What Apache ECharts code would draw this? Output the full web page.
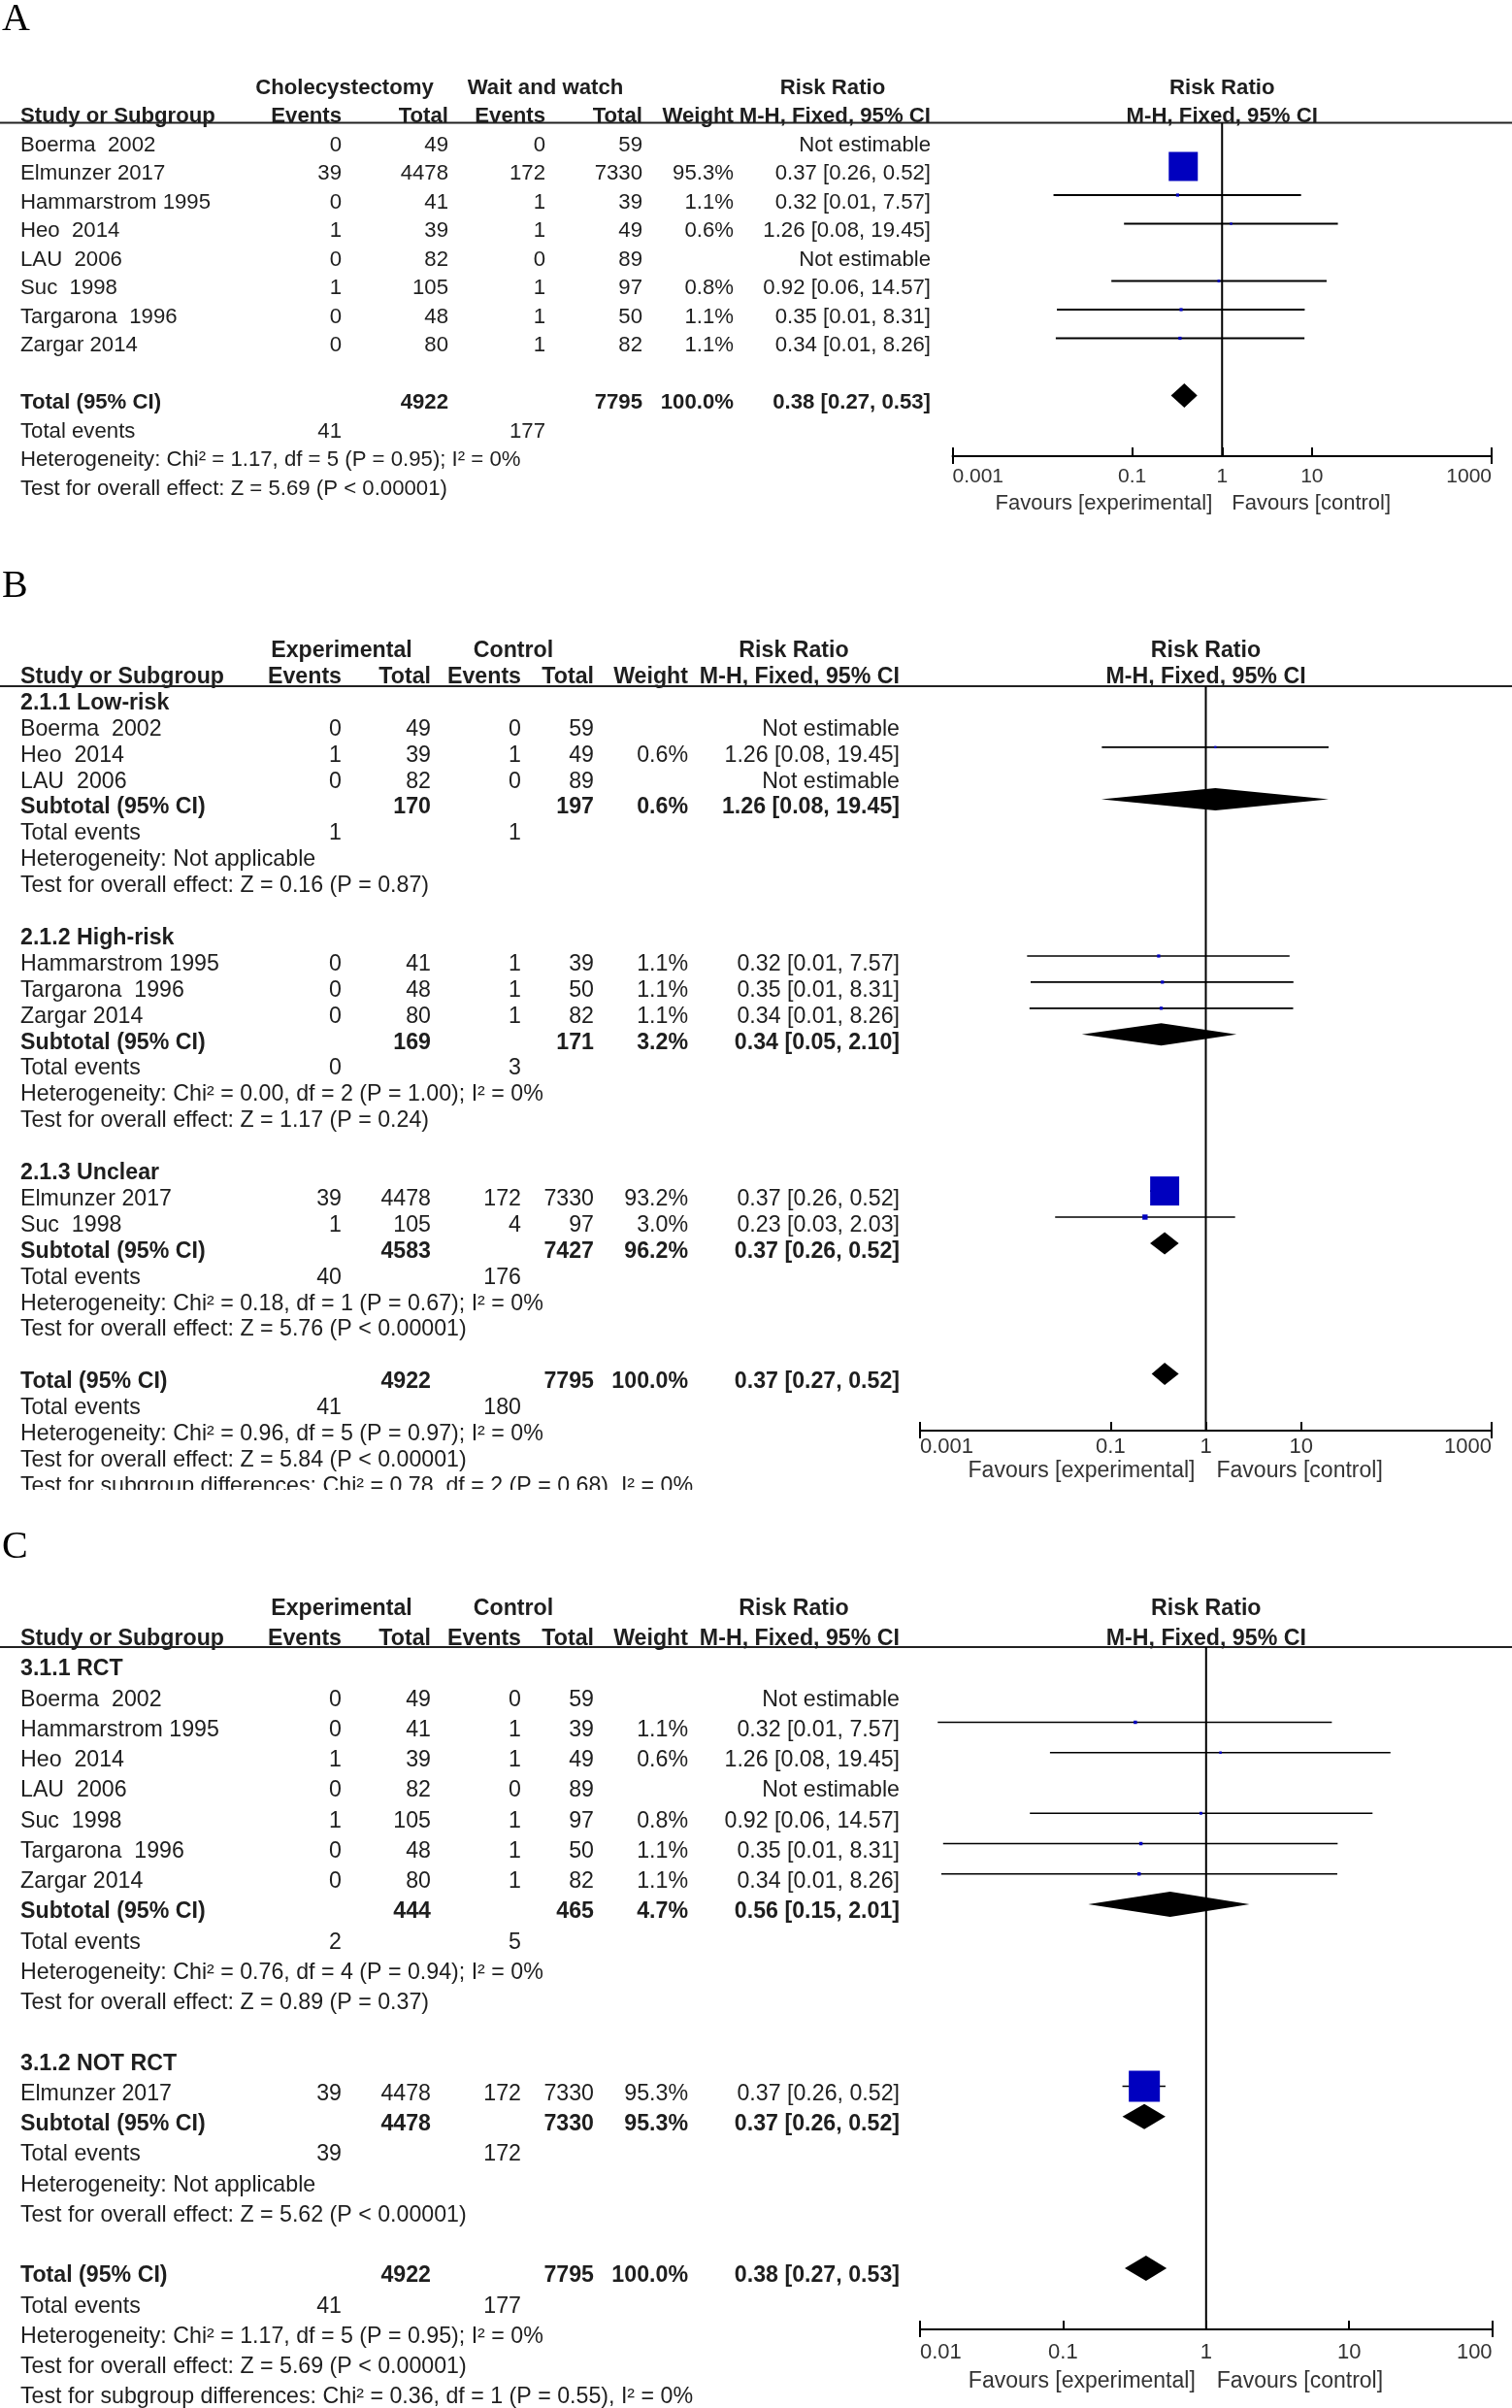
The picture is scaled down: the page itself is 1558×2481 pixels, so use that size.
<!DOCTYPE html>
<html>
<head>
<meta charset="utf-8">
<script src="https://cdn.jsdelivr.net/npm/echarts@6/dist/echarts.min.js"></script>
<style>
  html, body { margin: 0; padding: 0; background: #fff; }
  #chart { width: 1558px; height: 2481px; }
</style>
</head>
<body>
<div id="chart"></div>
<script>
const W = 1558;
const FONT = "'Liberation Sans', Arial, Helvetica, sans-serif";
const SERIF = "'Liberation Serif', 'Times New Roman', serif";
const INK = '#1e1e1e';

// shared labels
const colHeaders = ['Study or Subgroup', 'Events', 'Total', 'Events', 'Total', 'Weight', 'M-H, Fixed, 95% CI'];
const rrHeader = ['Risk Ratio', 'M-H, Fixed, 95% CI'];
const favourLabels = ['Favours [experimental]', 'Favours [control]'];

// ---- Panel A ----
const aArmLabels = ['Cholecystectomy', 'Wait and watch'];
const aStudy = ['Boerma  2002', 'Elmunzer 2017', 'Hammarstrom 1995', 'Heo  2014', 'LAU  2006', 'Suc  1998', 'Targarona  1996', 'Zargar 2014'];
const aExpEvents = [0, 39, 0, 1, 0, 1, 0, 0];
const aExpTotal = [49, 4478, 41, 39, 82, 105, 48, 80];
const aCtlEvents = [0, 172, 1, 1, 0, 1, 1, 1];
const aCtlTotal = [59, 7330, 39, 49, 89, 97, 50, 82];
const aWeight = [null, 95.3, 1.1, 0.6, null, 0.8, 1.1, 1.1];
const aRR = [null, 0.37, 0.32, 1.26, null, 0.92, 0.35, 0.34];
const aLow = [null, 0.26, 0.0133, 0.081, null, 0.0586, 0.0145, 0.0141];
const aHigh = [null, 0.52, 7.57, 19.45, null, 14.57, 8.31, 8.26];
const aTotalN = [4922, 7795];
const aTotalWeight = 100.0;
const aTotalRR = [0.38, 0.27, 0.53];
const aTotalEvents = [41, 177];
const aTotalNotes = [
  'Heterogeneity: Chi² = 1.17, df = 5 (P = 0.95); I² = 0%',
  'Test for overall effect: Z = 5.69 (P < 0.00001)'
];
const aTicks = [0.001, 0.1, 1, 10, 1000];
const aTickLabels = ['0.001', '0.1', '1', '10', '1000'];

// ---- Panel B ----
const bArmLabels = ['Experimental', 'Control'];
const bGroupNames = ['2.1.1 Low-risk', '2.1.2 High-risk', '2.1.3 Unclear'];
const bStudy = ['Boerma  2002', 'Heo  2014', 'LAU  2006', 'Hammarstrom 1995', 'Targarona  1996', 'Zargar 2014', 'Elmunzer 2017', 'Suc  1998'];
const bGroup = [0, 0, 0, 1, 1, 1, 2, 2];
const bExpEvents = [0, 1, 0, 0, 0, 0, 39, 1];
const bExpTotal = [49, 39, 82, 41, 48, 80, 4478, 105];
const bCtlEvents = [0, 1, 0, 1, 1, 1, 172, 4];
const bCtlTotal = [59, 49, 89, 39, 50, 82, 7330, 97];
const bWeight = [null, 0.6, null, 1.1, 1.1, 1.1, 93.2, 3.0];
const bRR = [null, 1.26, null, 0.32, 0.35, 0.34, 0.37, 0.23];
const bLow = [null, 0.081, null, 0.0133, 0.0145, 0.0141, 0.26, 0.0262];
const bHigh = [null, 19.45, null, 7.57, 8.31, 8.26, 0.52, 2.03];
const bSubExpTotal = [170, 169, 4583];
const bSubCtlTotal = [197, 171, 7427];
const bSubWeight = [0.6, 3.2, 96.2];
const bSubRR = [1.26, 0.34, 0.37];
const bSubLow = [0.08, 0.05, 0.26];
const bSubHigh = [19.45, 2.10, 0.52];
const bSubExpEvents = [1, 0, 40];
const bSubCtlEvents = [1, 3, 176];
const bSubHet = [
  'Heterogeneity: Not applicable',
  'Heterogeneity: Chi² = 0.00, df = 2 (P = 1.00); I² = 0%',
  'Heterogeneity: Chi² = 0.18, df = 1 (P = 0.67); I² = 0%'
];
const bSubTest = [
  'Test for overall effect: Z = 0.16 (P = 0.87)',
  'Test for overall effect: Z = 1.17 (P = 0.24)',
  'Test for overall effect: Z = 5.76 (P < 0.00001)'
];
const bTotalN = [4922, 7795];
const bTotalWeight = 100.0;
const bTotalRR = [0.37, 0.27, 0.52];
const bTotalEvents = [41, 180];
const bTotalNotes = [
  'Heterogeneity: Chi² = 0.96, df = 5 (P = 0.97); I² = 0%',
  'Test for overall effect: Z = 5.84 (P < 0.00001)',
  'Test for subgroup differences: Chi² = 0.78, df = 2 (P = 0.68), I² = 0%'
];
const bTicks = [0.001, 0.1, 1, 10, 1000];
const bTickLabels = ['0.001', '0.1', '1', '10', '1000'];

// ---- Panel C ----
const cGroupNames = ['3.1.1 RCT', '3.1.2 NOT RCT'];
const cStudy = ['Boerma  2002', 'Hammarstrom 1995', 'Heo  2014', 'LAU  2006', 'Suc  1998', 'Targarona  1996', 'Zargar 2014', 'Elmunzer 2017'];
const cGroup = [0, 0, 0, 0, 0, 0, 0, 1];
const cExpEvents = [0, 0, 1, 0, 1, 0, 0, 39];
const cExpTotal = [49, 41, 39, 82, 105, 48, 80, 4478];
const cCtlEvents = [0, 1, 1, 0, 1, 1, 1, 172];
const cCtlTotal = [59, 39, 49, 89, 97, 50, 82, 7330];
const cWeight = [null, 1.1, 0.6, null, 0.8, 1.1, 1.1, 95.3];
const cRR = [null, 0.32, 1.26, null, 0.92, 0.35, 0.34, 0.37];
const cLow = [null, 0.0133, 0.081, null, 0.0586, 0.0145, 0.0141, 0.26];
const cHigh = [null, 7.57, 19.45, null, 14.57, 8.31, 8.26, 0.52];
const cSubExpTotal = [444, 4478];
const cSubCtlTotal = [465, 7330];
const cSubWeight = [4.7, 95.3];
const cSubRR = [0.56, 0.37];
const cSubLow = [0.15, 0.26];
const cSubHigh = [2.01, 0.52];
const cSubExpEvents = [2, 39];
const cSubCtlEvents = [5, 172];
const cSubHet = [
  'Heterogeneity: Chi² = 0.76, df = 4 (P = 0.94); I² = 0%',
  'Heterogeneity: Not applicable'
];
const cSubTest = [
  'Test for overall effect: Z = 0.89 (P = 0.37)',
  'Test for overall effect: Z = 5.62 (P < 0.00001)'
];
const cTotalN = [4922, 7795];
const cTotalWeight = 100.0;
const cTotalRR = [0.38, 0.27, 0.53];
const cTotalEvents = [41, 177];
const cTotalNotes = [
  'Heterogeneity: Chi² = 1.17, df = 5 (P = 0.95); I² = 0%',
  'Test for overall effect: Z = 5.69 (P < 0.00001)',
  'Test for subgroup differences: Chi² = 0.36, df = 1 (P = 0.55), I² = 0%'
];
const cTicks = [0.01, 0.1, 1, 10, 100];
const cTickLabels = ['0.01', '0.1', '1', '10', '100'];

// layout (pixels)
const colsA = { study: 21, expEv: 352, expTot: 462, ctlEv: 562, ctlTot: 662, weight: 756, ci: 959 };
const colsBC = { study: 21, expEv: 352, expTot: 444, ctlEv: 537, ctlTot: 612, weight: 709, ci: 927 };

const layoutA = {
  letter: 'A', letterY: 20, rowTop: 142, pitch: 29.5, shift: 7.5, ruleY: 126.5, axisY: 470,
  plotLeft: 981.5, plotWidth: 555.5, cols: colsA, armCenters: [355, 562], rrCenter: 858,
  font: 22.2, tickFont: 21, labelMargin: 11, favOffset: 49, favFont: 22, favGap: 10,
  diamondHalf: 12.5, squareScale: 3.07, ciWidth: 2
};
const layoutB = {
  letter: 'B', letterY: 604, rowTop: 716, pitch: 26.9, shift: 8.5, ruleY: 707, axisY: 1474,
  plotLeft: 948, plotWidth: 589, cols: colsBC, armCenters: [352, 529], rrCenter: 818,
  font: 23.2, tickFont: 22, labelMargin: 6, favOffset: 42, favFont: 23, favGap: 11,
  diamondHalf: 11.5, squareScale: 3.1, ciWidth: 1.7, clipBelow: 1535
};
const layoutC = {
  letter: 'C', letterY: 1594, rowTop: 1712, pitch: 31.25, shift: 8, ruleY: 1697, axisY: 2400,
  plotLeft: 948, plotWidth: 589.6, cols: colsBC, armCenters: [352, 529], rrCenter: 818,
  font: 23.2, tickFont: 22, labelMargin: 13, favOffset: 54, favFont: 23, favGap: 11,
  diamondHalf: 13, squareScale: 3.28, ciWidth: 1.7
};

const panels = [
  {
    layout: layoutA, armLabels: aArmLabels, groupNames: null,
    study: aStudy, group: null, expEv: aExpEvents, expTot: aExpTotal, ctlEv: aCtlEvents, ctlTot: aCtlTotal,
    weight: aWeight, rr: aRR, low: aLow, high: aHigh,
    totalN: aTotalN, totalWeight: aTotalWeight, totalRR: aTotalRR, totalEvents: aTotalEvents, totalNotes: aTotalNotes,
    ticks: aTicks, tickLabels: aTickLabels
  },
  {
    layout: layoutB, armLabels: bArmLabels, groupNames: bGroupNames,
    study: bStudy, group: bGroup, expEv: bExpEvents, expTot: bExpTotal, ctlEv: bCtlEvents, ctlTot: bCtlTotal,
    weight: bWeight, rr: bRR, low: bLow, high: bHigh,
    subExpTotal: bSubExpTotal, subCtlTotal: bSubCtlTotal, subWeight: bSubWeight, subRR: bSubRR, subLow: bSubLow, subHigh: bSubHigh,
    subExpEvents: bSubExpEvents, subCtlEvents: bSubCtlEvents, subHet: bSubHet, subTest: bSubTest,
    totalN: bTotalN, totalWeight: bTotalWeight, totalRR: bTotalRR, totalEvents: bTotalEvents, totalNotes: bTotalNotes,
    ticks: bTicks, tickLabels: bTickLabels
  },
  {
    layout: layoutC, armLabels: bArmLabels, groupNames: cGroupNames,
    study: cStudy, group: cGroup, expEv: cExpEvents, expTot: cExpTotal, ctlEv: cCtlEvents, ctlTot: cCtlTotal,
    weight: cWeight, rr: cRR, low: cLow, high: cHigh,
    subExpTotal: cSubExpTotal, subCtlTotal: cSubCtlTotal, subWeight: cSubWeight, subRR: cSubRR, subLow: cSubLow, subHigh: cSubHigh,
    subExpEvents: cSubExpEvents, subCtlEvents: cSubCtlEvents, subHet: cSubHet, subTest: cSubTest,
    totalN: cTotalN, totalWeight: cTotalWeight, totalRR: cTotalRR, totalEvents: cTotalEvents, totalNotes: cTotalNotes,
    ticks: cTicks, tickLabels: cTickLabels
  }
];

const option = {
  backgroundColor: '#fff',
  animation: false,
  grid: [], xAxis: [], yAxis: [], series: [], graphic: []
};

function ciText(rr, lo, hi) {
  if (rr == null) return 'Not estimable';
  return rr.toFixed(2) + ' [' + lo.toFixed(2) + ', ' + hi.toFixed(2) + ']';
}
function wText(w) {
  return w == null ? '' : w.toFixed(1) + '%';
}

function addPanel(P) {
  const L = P.layout;
  const c = L.cols;
  const cells = [];
  const studies = [];
  const diamonds = [];
  const put = (x, row, text, align, bold) => cells.push({ x, row, text: String(text), align, bold: !!bold });

  // column headers
  put(L.armCenters[0], -2, P.armLabels[0], 'center', true);
  put(L.armCenters[1], -2, P.armLabels[1], 'center', true);
  put(L.rrCenter, -2, rrHeader[0], 'center', true);
  const hx = [c.study, c.expEv, c.expTot, c.ctlEv, c.ctlTot, c.weight, c.ci];
  colHeaders.forEach((h, i) => put(hx[i], -1, h, i === 0 ? 'left' : 'right', true));

  const studyRow = (i, r) => {
    put(c.study, r, P.study[i], 'left');
    put(c.expEv, r, P.expEv[i], 'right');
    put(c.expTot, r, P.expTot[i], 'right');
    put(c.ctlEv, r, P.ctlEv[i], 'right');
    put(c.ctlTot, r, P.ctlTot[i], 'right');
    put(c.weight, r, wText(P.weight[i]), 'right');
    put(c.ci, r, ciText(P.rr[i], P.low[i], P.high[i]), 'right');
    if (P.rr[i] != null) studies.push([P.low[i], P.high[i], P.rr[i], r, P.weight[i]]);
  };
  const summaryRow = (r, label, nE, nC, w, rr, lo, hi) => {
    put(c.study, r, label, 'left', true);
    put(c.expTot, r, nE, 'right', true);
    put(c.ctlTot, r, nC, 'right', true);
    put(c.weight, r, wText(w), 'right', true);
    put(c.ci, r, ciText(rr, lo, hi), 'right', true);
    diamonds.push([lo, rr, hi, r]);
  };
  const eventsRow = (r, e1, e2) => {
    put(c.study, r, 'Total events', 'left');
    put(c.expEv, r, e1, 'right');
    put(c.ctlEv, r, e2, 'right');
  };

  let r = 0;
  if (P.groupNames) {
    P.groupNames.forEach((g, gi) => {
      put(c.study, r++, g, 'left', true);
      P.study.forEach((s, i) => { if (P.group[i] === gi) studyRow(i, r++); });
      summaryRow(r++, 'Subtotal (95% CI)', P.subExpTotal[gi], P.subCtlTotal[gi], P.subWeight[gi],
        P.subRR[gi], P.subLow[gi], P.subHigh[gi]);
      eventsRow(r++, P.subExpEvents[gi], P.subCtlEvents[gi]);
      put(c.study, r++, P.subHet[gi], 'left');
      put(c.study, r++, P.subTest[gi], 'left');
      r++;
    });
  } else {
    P.study.forEach((s, i) => studyRow(i, r++));
    r++;
  }
  summaryRow(r++, 'Total (95% CI)', P.totalN[0], P.totalN[1], P.totalWeight, P.totalRR[0], P.totalRR[1], P.totalRR[2]);
  eventsRow(r++, P.totalEvents[0], P.totalEvents[1]);
  P.totalNotes.forEach(n => put(c.study, r++, n, 'left'));
  const lastRow = r - 1;

  // grids and axes (table grid kept inside the canvas so it is not squeezed)
  const tMin = -3, tMax = lastRow + 0.2;
  const ruleRow = (L.ruleY - L.rowTop) / L.pitch;
  const axisRow = (L.axisY - L.rowTop) / L.pitch;
  const gi = option.grid.length;
  option.grid.push({ left: 0, width: W, top: L.rowTop + tMin * L.pitch, height: (tMax - tMin) * L.pitch });
  option.grid.push({ left: L.plotLeft, width: L.plotWidth, top: L.ruleY, height: L.axisY - L.ruleY });

  const ticks = P.ticks;
  const tmin = ticks[0], tmax = ticks[ticks.length - 1];
  const txi = option.xAxis.length;
  option.xAxis.push({ gridIndex: gi, type: 'value', min: 0, max: W, show: false, splitLine: { show: false } });
  option.xAxis.push({
    gridIndex: gi + 1, type: 'log', logBase: 10, min: tmin, max: tmax, position: 'bottom',
    axisLine: { onZero: false, lineStyle: { color: '#000', width: 2 } },
    axisTick: { inside: true, length: 9, customValues: ticks, lineStyle: { color: '#000', width: 2 } },
    axisLabel: {
      customValues: ticks, margin: L.labelMargin, fontSize: L.tickFont, fontFamily: FONT, color: '#333',
      alignMinLabel: 'left', alignMaxLabel: 'right',
      formatter: v => {
        const e = Math.round(Math.log10(v));
        const k = ticks.findIndex(t => Math.round(Math.log10(t)) === e);
        return k >= 0 ? P.tickLabels[k] : '';
      }
    },
    splitLine: { show: false }, minorTick: { show: false }
  });
  option.xAxis.push({
    gridIndex: gi + 1, type: 'log', logBase: 10, min: tmin, max: tmax, position: 'bottom',
    axisLine: { show: false, onZero: false },
    axisTick: { inside: false, length: 8, customValues: [tmin, tmax], lineStyle: { color: '#000', width: 2 } },
    axisLabel: { show: false }, splitLine: { show: false }
  });
  const tyi = option.yAxis.length;
  option.yAxis.push({ gridIndex: gi, type: 'value', inverse: true, min: tMin, max: tMax, show: false, splitLine: { show: false } });
  option.yAxis.push({ gridIndex: gi + 1, type: 'value', inverse: true, min: ruleRow, max: axisRow, show: false, splitLine: { show: false } });
  const pxi = txi + 1, pyi = tyi + 1;

  // table text
  option.series.push({
    type: 'custom', xAxisIndex: txi, yAxisIndex: tyi, silent: true,
    data: cells.map(d => [d.x, d.row]),
    renderItem: (params, api) => {
      const d = cells[params.dataIndex];
      const p = api.coord([api.value(0), api.value(1)]);
      return {
        type: 'text', x: p[0], y: p[1] + L.shift,
        style: {
          text: d.text, align: d.align, verticalAlign: 'middle',
          fontSize: L.font, fontFamily: FONT, fontWeight: d.bold ? 'bold' : 'normal', fill: INK
        }
      };
    }
  });
  // header rule across the page
  option.series.push({
    type: 'line', xAxisIndex: txi, yAxisIndex: tyi, silent: true, symbol: 'none',
    data: [[0, ruleRow], [W, ruleRow]], lineStyle: { color: '#222', width: 2 }
  });
  // line of no effect
  option.series.push({
    type: 'line', xAxisIndex: pxi, yAxisIndex: pyi, silent: true, symbol: 'none',
    data: [[1, ruleRow], [1, axisRow]], lineStyle: { color: '#000', width: 2 }
  });
  // study CIs and weighted squares
  option.series.push({
    type: 'custom', xAxisIndex: pxi, yAxisIndex: pyi, silent: true, data: studies,
    renderItem: (params, api) => {
      const row = api.value(3);
      const a = api.coord([api.value(0), row]);
      const b = api.coord([api.value(1), row]);
      const m = api.coord([api.value(2), row]);
      const s = Math.max(2, L.squareScale * Math.sqrt(api.value(4)));
      return {
        type: 'group', children: [
          { type: 'line', shape: { x1: a[0], y1: a[1], x2: b[0], y2: b[1] }, style: { stroke: '#000', lineWidth: L.ciWidth } },
          { type: 'rect', shape: { x: m[0] - s / 2, y: m[1] - s / 2, width: s, height: s }, style: { fill: '#0000bf' } }
        ]
      };
    }
  });
  // pooled diamonds
  option.series.push({
    type: 'custom', xAxisIndex: pxi, yAxisIndex: pyi, silent: true, data: diamonds,
    renderItem: (params, api) => {
      const row = api.value(3);
      const a = api.coord([api.value(0), row]);
      const m = api.coord([api.value(1), row]);
      const b = api.coord([api.value(2), row]);
      const h = L.diamondHalf;
      return {
        type: 'polygon',
        shape: { points: [[a[0], a[1]], [m[0], m[1] - h], [b[0], b[1]], [m[0], m[1] + h]] },
        style: { fill: '#000' }
      };
    }
  });
  // plot headers and favours labels
  const ptexts = [
    { row: -2, text: rrHeader[0], align: 'center', bold: true, dx: 0, dy: L.shift, size: L.font, color: INK },
    { row: -1, text: rrHeader[1], align: 'center', bold: true, dx: 0, dy: L.shift, size: L.font, color: INK },
    { row: axisRow, text: favourLabels[0], align: 'right', bold: false, dx: -L.favGap, dy: L.favOffset, size: L.favFont, color: '#333' },
    { row: axisRow, text: favourLabels[1], align: 'left', bold: false, dx: L.favGap, dy: L.favOffset, size: L.favFont, color: '#333' }
  ];
  option.series.push({
    type: 'custom', xAxisIndex: pxi, yAxisIndex: pyi, silent: true,
    data: ptexts.map(t => [1, t.row]),
    renderItem: (params, api) => {
      const t = ptexts[params.dataIndex];
      const p = api.coord([api.value(0), api.value(1)]);
      return {
        type: 'text', x: p[0] + t.dx, y: p[1] + t.dy,
        style: {
          text: t.text, align: t.align, verticalAlign: 'middle', fontSize: t.size,
          fontFamily: FONT, fontWeight: t.bold ? 'bold' : 'normal', fill: t.color
        }
      };
    }
  });

  // the source panel is cropped just under its last line
  if (L.clipBelow) {
    option.graphic.push({
      type: 'rect', z: 100, shape: { x: 0, y: L.clipBelow, width: W, height: 36 },
      style: { fill: '#fff' }
    });
  }

  // panel letter
  option.graphic.push({
    type: 'text', x: 2, y: L.letterY, z: 101,
    style: { text: L.letter, fontSize: 40, fontFamily: SERIF, fill: '#000', verticalAlign: 'middle', align: 'left' }
  });
}

panels.forEach(addPanel);

const chart = echarts.init(document.getElementById('chart'), null, { renderer: 'canvas' });
chart.setOption(option);
</script>
</body>
</html>
